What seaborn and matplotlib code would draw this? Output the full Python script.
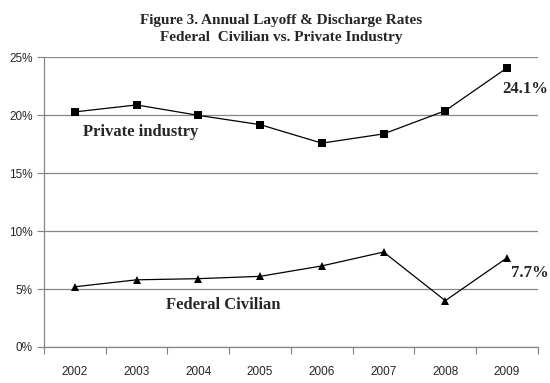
import matplotlib
matplotlib.use("Agg")
import matplotlib.pyplot as plt
import seaborn as sns
import pandas as pd

years = ["2002", "2003", "2004", "2005", "2006", "2007", "2008", "2009"]
private_industry = [20.3, 20.9, 20.0, 19.2, 17.6, 18.4, 20.4, 24.1]
federal_civilian = [5.2, 5.8, 5.9, 6.1, 7.0, 8.2, 4.0, 7.7]
y_ticks = [0, 5, 10, 15, 20, 25]

sns.set_style("white")
plt.rcParams["font.family"] = ["Liberation Sans", "DejaVu Sans"]

df = pd.DataFrame({
    "idx": list(range(len(years))) * 2,
    "rate": private_industry + federal_civilian,
    "series": ["Private industry"] * len(years) + ["Federal Civilian"] * len(years),
})

fig = plt.figure(figsize=(5.5, 3.83), dpi=100)
ax = fig.add_axes([0.080, 0.094, 0.898, 0.756])

sns.lineplot(data=df, x="idx", y="rate", hue="series", style="series",
             palette={"Private industry": "black", "Federal Civilian": "black"},
             markers={"Private industry": "s", "Federal Civilian": "^"},
             dashes=False, linewidth=0.9, markersize=5.5, markeredgewidth=0,
             legend=False, ax=ax)

ax.set_xlim(-0.5, len(years) - 0.5)
ax.set_ylim(0, 25)
ax.set_yticks(y_ticks)
ax.set_yticklabels([f"{v}%" for v in y_ticks])
ax.set_xticks([i - 0.5 for i in range(len(years) + 1)])
ax.set_xticklabels([])
ax.set_xticks(range(len(years)), minor=True)
ax.set_xticklabels(years, minor=True)
ax.tick_params(axis="x", which="major", length=5, color="#808080", direction="out", bottom=True)
ax.tick_params(axis="x", which="minor", length=0, pad=14, labelsize=8.5)
ax.tick_params(axis="y", length=5, color="#808080", direction="out", left=True, labelsize=8.5, pad=3)
ax.set_xlabel("")
ax.set_ylabel("")
ax.grid(axis="y", color="#868686", linewidth=0.9)
ax.set_axisbelow(True)
for s in ["top", "right"]:
    ax.spines[s].set_visible(False)
for s in ["left", "bottom"]:
    ax.spines[s].set_color("#868686")
    ax.spines[s].set_linewidth(0.9)

serif = ["Liberation Serif", "DejaVu Serif"]
ax.text(0.13, 18.6, "Private industry", family=serif, fontsize=12, fontweight="bold", va="center", ha="left")
ax.text(1.47, 3.6, "Federal Civilian", family=serif, fontsize=12, fontweight="bold", va="center", ha="left")
ax.text(6.92, 22.3, f"{private_industry[-1]}%", family=serif, fontsize=12, fontweight="bold", va="center", ha="left")
ax.text(7.07, 6.4, f"{federal_civilian[-1]}%", family=serif, fontsize=12, fontweight="bold", va="center", ha="left")

fig.text(0.512, 0.947, "Figure 3. Annual Layoff & Discharge Rates", family=serif,
         fontsize=11, fontweight="bold", ha="center", va="center")
fig.text(0.512, 0.902, "Federal  Civilian vs. Private Industry", family=serif,
         fontsize=11, fontweight="bold", ha="center", va="center")

fig.savefig("out.png", dpi=100)
